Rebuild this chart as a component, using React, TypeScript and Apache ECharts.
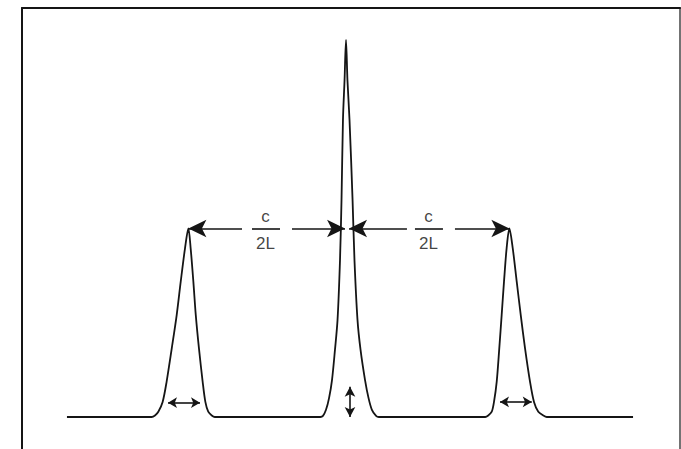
import React, { useEffect, useRef } from "react";
import * as echarts from "echarts";

// x: frequency offset in units of c/2L (centre mode = 0); y: relative intensity (centre mode = 1)
const baselineStart: number[][] = [[-1.744, 0]];
const leftPeak: number[][] = [
  [-1.215, 0], [-1.194, 0.004], [-1.173, 0.014], [-1.146, 0.04], [-1.121, 0.094],
  [-1.089, 0.182], [-1.058, 0.271], [-1.033, 0.359], [-1.006, 0.448], [-0.985, 0.5],
  [-0.971, 0.448], [-0.954, 0.359], [-0.939, 0.271], [-0.919, 0.182], [-0.896, 0.094],
  [-0.879, 0.04], [-0.861, 0.014], [-0.839, 0.004], [-0.82, 0],
];
const centerPeak: number[][] = [
  [-0.16, 0], [-0.144, 0.003], [-0.125, 0.019], [-0.106, 0.05], [-0.0875, 0.098],
  [-0.069, 0.178], [-0.053, 0.257], [-0.0375, 0.416], [-0.028, 0.576], [-0.019, 0.788],
  [-0.009, 0.894], [0, 1], [0.009, 0.894], [0.022, 0.788], [0.041, 0.576],
  [0.053, 0.416], [0.072, 0.257], [0.091, 0.178], [0.119, 0.098], [0.141, 0.05],
  [0.162, 0.019], [0.188, 0.003], [0.205, 0],
];
const rightPeak: number[][] = [
  [0.87, 0], [0.889, 0.004], [0.911, 0.014], [0.925, 0.04], [0.942, 0.094],
  [0.958, 0.182], [0.973, 0.271], [0.9875, 0.359], [1.004, 0.448], [1.021, 0.5],
  [1.042, 0.448], [1.067, 0.359], [1.092, 0.271], [1.119, 0.182], [1.15, 0.094],
  [1.175, 0.04], [1.202, 0.014], [1.233, 0.004], [1.255, 0],
];
const baselineEnd: number[][] = [[1.794, 0]];

// spacing arrows (c/2L): [fromX, toX, arrow at start?, arrow at end?]
const spacingArrowY = 0.5;
const spacingSegments: [number, number, boolean, boolean][] = [
  [-0.985, -0.65, true, false],
  [-0.3375, -0.006, false, true],
  [0.019, 0.381, true, false],
  [0.681, 1.021, false, true],
];
// fraction bars [fromX, toX]
const fractionBars: number[][] = [[-0.5875, -0.4125], [0.431, 0.606]];
// fraction labels
const numerators = [{ x: -0.5, y: 0.53, text: "c" }, { x: 0.519, y: 0.53, text: "c" }];
const denominators = [{ x: -0.5, y: 0.458, text: "2L" }, { x: 0.519, y: 0.458, text: "2L" }];
// width arrows [fromX, toX, y]
const widthArrows: number[][] = [[-1.1125, -0.9125, 0.038], [0.9625, 1.161, 0.04]];
// height arrow [x, fromY, toY]
const heightArrow: number[] = [0.025, 0, 0.08];

const INK = "#151515";

export default function App() {
  const ref = useRef<HTMLDivElement>(null);
  useEffect(() => {
    if (!ref.current) return;
    const chart = echarts.init(ref.current, undefined, { renderer: "svg" });
    const spectrum = [...baselineStart, ...leftPeak, ...centerPeak, ...rightPeak, ...baselineEnd];

    const bigArrow = [13, 18];
    const smallArrow = [8, 9];
    const markData: any[] = [];
    spacingSegments.forEach(([a, b, s, e]) => {
      markData.push([
        { coord: [a, spacingArrowY], symbol: s ? "arrow" : "none", symbolSize: bigArrow },
        { coord: [b, spacingArrowY], symbol: e ? "arrow" : "none", symbolSize: bigArrow },
      ]);
    });
    fractionBars.forEach(([a, b]) => {
      markData.push([
        { coord: [a, spacingArrowY], symbol: "none" },
        { coord: [b, spacingArrowY], symbol: "none" },
      ]);
    });
    widthArrows.forEach(([a, b, y]) => {
      markData.push([
        { coord: [a, y], symbol: "arrow", symbolSize: smallArrow },
        { coord: [b, y], symbol: "arrow", symbolSize: smallArrow },
      ]);
    });
    markData.push([
      { coord: [heightArrow[0], heightArrow[1]], symbol: "arrow", symbolSize: [8, 10] },
      { coord: [heightArrow[0], heightArrow[2]], symbol: "arrow", symbolSize: [8, 10] },
    ]);

    const labelStyle = {
      show: true,
      position: [0, 0],
      align: "center",
      verticalAlign: "middle",
      formatter: (p: any) => p.name,
      fontSize: 17,
      color: "#111111",
      fontFamily: "Liberation Sans, Arial, sans-serif",
    };
    const labelData = [...numerators, ...denominators].map((d) => ({
      value: [d.x, d.y],
      name: d.text,
      label: labelStyle,
    }));

    const axisHidden = { axisTick: { show: false }, axisLabel: { show: false }, splitLine: { show: false } };
    chart.setOption({
      animation: false,
      backgroundColor: "#ffffff",
      grid: { left: 22, right: 1, top: 8, bottom: 0, containLabel: false },
      xAxis: {
        type: "value",
        min: -2.025,
        max: 2.0875,
        position: "top",
        axisLine: { show: true, onZero: false, lineStyle: { color: INK, width: 2 } },
        ...axisHidden,
      },
      yAxis: [
        {
          type: "value",
          min: -0.0849,
          max: 1.0849,
          position: "left",
          axisLine: { show: true, onZero: false, lineStyle: { color: INK, width: 2 } },
          ...axisHidden,
        },
        {
          type: "value",
          min: -0.0849,
          max: 1.0849,
          position: "right",
          axisLine: { show: true, onZero: false, lineStyle: { color: "#444", width: 1.5 } },
          ...axisHidden,
        },
      ],
      series: [
        {
          type: "line",
          name: "spectrum",
          data: spectrum,
          smooth: 0.3,
          showSymbol: false,
          symbol: "none",
          lineStyle: { color: INK, width: 1.8 },
          silent: true,
        },
        {
          type: "line",
          name: "annotations",
          data: [],
          silent: true,
          markLine: {
            silent: true,
            animation: false,
            symbol: "none",
            label: { show: false },
            emphasis: { disabled: true },
            lineStyle: { color: INK, width: 1.6, type: "solid" },
            itemStyle: { color: INK },
            data: markData,
          },
        },
        {
          type: "scatter",
          name: "labels",
          data: labelData,
          symbolSize: 1,
          itemStyle: { color: "rgba(0,0,0,0)" },
          silent: true,
          label: labelStyle,
        },
      ],
    });
    return () => chart.dispose();
  }, []);
  return (
    <div
      ref={ref}
      style={{ position: "fixed", left: 0, top: 0, width: 681, height: 449, background: "#fff" }}
    />
  );
}
